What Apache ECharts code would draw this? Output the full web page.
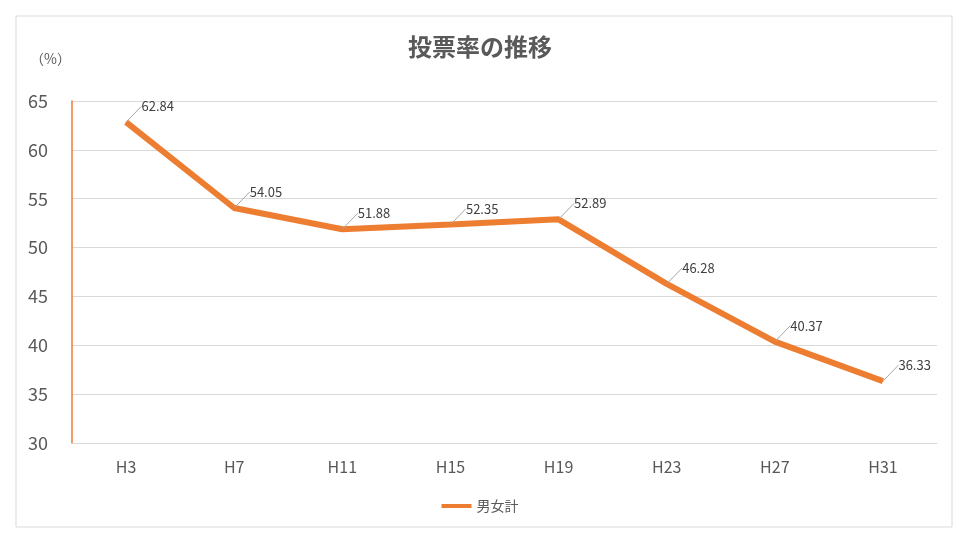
<!DOCTYPE html>
<html><head><meta charset="utf-8">
<script src="https://cdn.jsdelivr.net/npm/echarts@6/dist/echarts.min.js"></script>
<style>html,body{margin:0;background:#fff}#c{width:960px;height:540px}</style>
</head><body><div id="c"></div>
<script>
const categories = ["H3", "H7", "H11", "H15", "H19", "H23", "H27", "H31"];
const turnout = [62.84, 54.05, 51.88, 52.35, 52.89, 46.28, 40.37, 36.33];
const seriesName = "男女計";

const font = "'Noto Sans CJK JP', 'Noto Sans', sans-serif";
const chart = echarts.init(document.getElementById("c"));
chart.setOption({
  animation: false,
  textStyle: { fontFamily: font },
  graphic: [
    { type: "rect", shape: { x: 16, y: 16, width: 936, height: 511 },
      style: { fill: "none", stroke: "#d9d9d9", lineWidth: 1 } },
    { type: "text", left: 30, top: 52, style: { text: "（%）", fill: "#595959", font: "14px " + font } },
  ],
  title: {
    text: "投票率の推移", left: "center", top: 30,
    textStyle: { fontSize: 24, fontWeight: "bold", color: "#595959", fontFamily: font },
  },
  legend: {
    bottom: 22, left: "center", itemWidth: 30, itemHeight: 4,
    icon: "rect",
    textStyle: { color: "#595959", fontSize: 14 },
    data: [seriesName],
  },
  grid: { left: 72, right: 23, top: 101, bottom: 97 },
  xAxis: {
    type: "category", data: categories, boundaryGap: true,
    axisLine: { lineStyle: { color: "#d9d9d9" } },
    axisTick: { show: false },
    axisLabel: { color: "#595959", fontSize: 16, margin: 16 },
  },
  yAxis: {
    type: "value", min: 30, max: 65, interval: 5,
    axisLine: { show: true, lineStyle: { color: "#ed7d31", width: 1.5 } },
    axisLabel: { color: "#595959", fontSize: 18, margin: 24 },
    splitLine: { lineStyle: { color: "#d9d9d9" } },
  },
  series: [{
    name: seriesName, type: "line", data: turnout,
    symbol: "circle", symbolSize: 1, showSymbol: true,
    lineStyle: { color: "#ed7d31", width: 6 },
    itemStyle: { color: "#ed7d31" },
    label: { show: true, position: "right", color: "#404040", fontSize: 13,
      formatter: (p) => p.value.toFixed(2) },
    labelLayout: { dx: 10, dy: -16 },
    labelLine: { show: true, lineStyle: { color: "#a6a6a6", width: 1 } },
  }],
});
</script></body></html>
